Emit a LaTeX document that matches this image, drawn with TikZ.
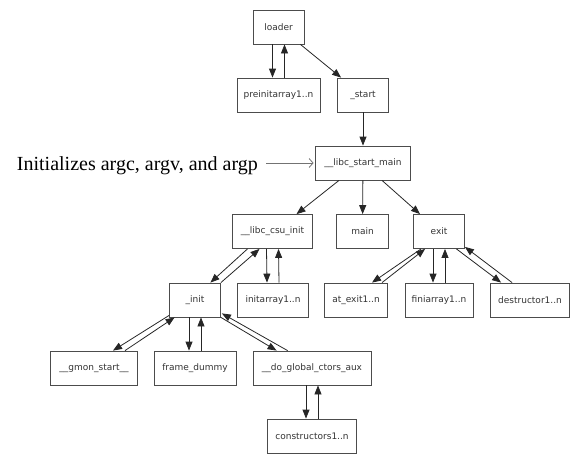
\documentclass[tikz,border=0pt]{standalone}
\usepackage{fontspec}
\setsansfont{DejaVu Sans}
\newfontfamily\notefont{Liberation Serif}
\usetikzlibrary{arrows.meta}

\begin{document}
\begin{tikzpicture}[
    x=1pt, y=-1pt,
    box/.style={draw=black!70, rectangle, line width=0.8pt, inner sep=0pt, minimum height=34pt, font=\sffamily\fontsize{9}{10}\selectfont, text=black!80},
    call/.style={-{Triangle[length=9pt,width=7pt]}, line width=0.8pt, black!85},
    note/.style={font=\notefont\fontsize{20}{22}\selectfont, inner sep=0pt, anchor=base east}
  ]
  \useasboundingbox (0,0) rectangle (574,456);

  % Loader and startup
  \node[box, minimum width=51pt] (loader) at (278.5,27) {loader};
  \node[box, minimum width=83pt] (preinit) at (278.5,95) {preinitarray1..n};
  \node[box, minimum width=51pt] (start) at (363,95) {\_start};
  \node[box, minimum width=95pt] (libcstart) at (363,163) {\_\_libc\_start\_main};

  % Second level
  \node[box, minimum width=80pt] (csuinit) at (272.5,231.5) {\_\_libc\_csu\_init};
  \node[box, minimum width=52pt] (main) at (362.5,231.5) {main};
  \node[box, minimum width=51pt] (exit) at (439,231.5) {exit};

  % Third level
  \node[box, minimum width=51pt] (init) at (195,300) {\_init};
  \node[box, minimum width=71pt] (initarray) at (273,300) {initarray1..n};
  \node[box, minimum width=63pt] (atexit) at (356,300) {at\_exit1..n};
  \node[box, minimum width=68pt] (finiarray) at (439,300) {finiarray1..n};
  \node[box, minimum width=79pt] (destructor) at (530,300) {destructor1..n};

  % Fourth and fifth level
  \node[box, minimum width=87pt] (gmon) at (94,368) {\_\_gmon\_start\_\_};
  \node[box, minimum width=82pt] (framedummy) at (195,368) {frame\_dummy};
  \node[box, minimum width=118pt] (doglobal) at (312,368) {\_\_do\_global\_ctors\_aux};
  \node[box, minimum width=89pt] (ctors) at (312,436) {constructors1..n};

  % Side note
  \node[note] (argnote) at (258,170.7) {Initializes argc, argv, and argp};
  \draw[-{Straight Barb[length=4pt,width=9pt]}, line width=0.8pt, black!55, shorten <=8pt, shorten >=1.5pt]
    (argnote.east |- libcstart.west) -- (libcstart.west);

  % Calls
  \draw[call] ([xshift=-6pt]loader.south) -- ([xshift=-6pt]preinit.north);
  \draw[call] ([xshift=6pt]preinit.north) -- ([xshift=6pt]loader.south);
  \draw[call] ([xshift=-4pt]loader.south east) -- ([xshift=4pt]start.north west);
  \draw[call] (start) -- (libcstart);

  \draw[call] ([xshift=-24pt]libcstart.south) -- ([xshift=24pt]csuinit.north);
  \draw[call] (libcstart) -- (main);
  \draw[call] ([xshift=19pt]libcstart.south) -- ([xshift=-19pt]exit.north);

  \draw[call] ([xshift=-25pt]csuinit.south) -- ([xshift=-10.5pt]init.north east);
  \draw[call] (init.north east) -- ([xshift=-13pt]csuinit.south);
  \draw[call] ([xshift=-6pt]csuinit.south) -- ([xshift=-6pt]initarray.north);
  \draw[call] ([xshift=6pt]initarray.north) -- ([xshift=6pt]csuinit.south);

  \draw[call] ([xshift=8pt]exit.south west) -- ([xshift=16pt]atexit.north);
  \draw[call] ([xshift=26pt]atexit.north) -- ([xshift=12pt]exit.south west);
  \draw[call] ([xshift=-6pt]exit.south) -- ([xshift=-6pt]finiarray.north);
  \draw[call] ([xshift=6pt]finiarray.north) -- ([xshift=6pt]exit.south);
  \draw[call] ([xshift=-8.5pt]exit.south east) -- ([xshift=11pt]destructor.north west);
  \draw[call] ([xshift=22pt]destructor.north west) -- ([yshift=2pt]exit.south east);

  \draw[call] ([yshift=2pt]init.south west) -- ([xshift=19pt]gmon.north);
  \draw[call] ([xshift=31pt]gmon.north) -- ([xshift=5.5pt]init.south west);
  \draw[call] ([xshift=-6pt]init.south) -- ([xshift=-6pt]framedummy.north);
  \draw[call] ([xshift=6pt]framedummy.north) -- ([xshift=6pt]init.south);
  \draw[call] (init.south east) -- ([xshift=24pt]doglobal.north west);
  \draw[call] ([xshift=35pt]doglobal.north west) -- ([xshift=1pt,yshift=4pt]init.south east);

  \draw[call] ([xshift=-6pt]doglobal.south) -- ([xshift=-6pt]ctors.north);
  \draw[call] ([xshift=6pt]ctors.north) -- ([xshift=6pt]doglobal.south);

\end{tikzpicture}
\end{document}
